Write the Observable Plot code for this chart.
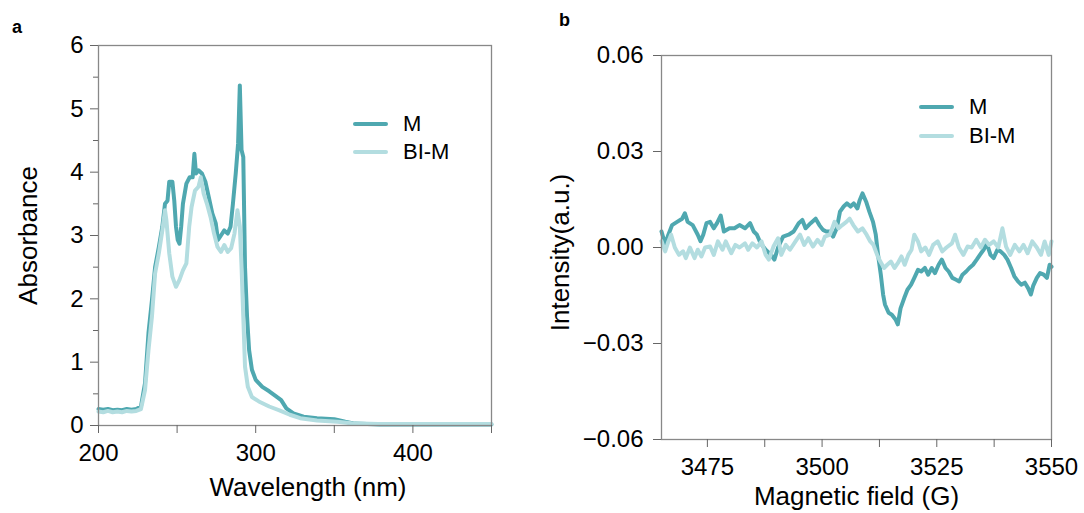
<!DOCTYPE html>
<html><head><meta charset="utf-8">
<script src="https://cdn.jsdelivr.net/npm/d3@7"></script>
<script src="https://cdn.jsdelivr.net/npm/@observablehq/plot@0.6"></script>
<style>
body{margin:0;background:#fff;font-family:"Liberation Sans",Arial,sans-serif;}
#root{position:relative;width:1084px;height:513px;overflow:hidden;}
.panel{position:absolute;top:0;}
.plabel{position:absolute;font-weight:bold;font-size:18px;line-height:1;}
.leg{position:absolute;font-size:22px;height:26px;line-height:26px;display:flex;align-items:center;white-space:nowrap;}
.leg .sw{display:inline-block;width:35px;height:4px;border-radius:2px;margin-right:15px;}
</style></head><body><div id="root"></div>
<script>
// ---------- data: panel a (UV-Vis) ----------
const seriesNames = ["M", "BI-M"];
const seriesColors = ["#4FA8B0", "#B3DDE0"];

const uvWavelengthM = [200,203,206,209,212,215,218,221,224,227,229.6,231.8,234,236,238.4,240.6,242.3,243.9,245,247,248.2,249.3,250.4,251.5,252.6,253.7,255.9,258,259.9,261,262,263.6,265.8,268,270.2,272.4,274.6,276,277.9,280,282.2,284,285.5,287.3,288.8,289.9,291,292.1,293.2,294.5,295.8,297.6,300,304.2,308.6,313,316.2,319.5,324,330.5,339,350,357,363,378.7,400,450];
const uvAbsM = [0.26,0.25,0.26,0.24,0.25,0.24,0.26,0.25,0.26,0.3,0.67,1.46,1.98,2.5,2.82,3.14,3.5,3.55,3.85,3.85,3.55,3.14,2.93,2.87,3.14,3.5,3.82,3.92,3.92,4.29,3.98,4.03,3.98,3.85,3.6,3.35,3.19,2.93,3.0,3.08,3.03,3.14,3.5,3.98,4.45,5.37,4.35,4.24,2.5,1.72,1.19,0.88,0.72,0.61,0.54,0.46,0.40,0.27,0.19,0.14,0.115,0.1,0.06,0.03,0.015,0.015,0.015];

const uvWavelengthBIM = [200,203,206,209,212,215,218,221,224,227,229.6,231.8,234,236,238.4,240.6,242.3,243.2,245,247,249.3,251.5,253.7,255.9,257.7,259.2,261.4,263.6,265.1,266.9,269,271.3,273.5,275.7,277.9,280,282.2,284.4,286.5,288.4,289.9,291,292.1,293.2,295,297.6,302,308.6,315.1,321.7,328.3,339,352,361,378,450];
const uvAbsBIM = [0.22,0.21,0.23,0.21,0.22,0.21,0.23,0.22,0.23,0.26,0.56,1.19,1.72,2.4,2.72,3.08,3.4,3.24,2.72,2.35,2.19,2.3,2.45,2.56,3.14,3.45,3.71,3.77,3.92,3.66,3.5,3.29,3.03,2.82,2.74,2.85,2.74,2.8,3.03,3.4,3.14,2.5,1.72,0.93,0.61,0.45,0.38,0.3,0.24,0.17,0.115,0.08,0.06,0.035,0.025,0.025];

const xTicksA = [200, 300, 400];
const xMinorA = [250, 350, 450];
const yTicksA = [0, 1, 2, 3, 4, 5, 6];
const yMinorA = [0.5, 1.5, 2.5, 3.5, 4.5, 5.5];
const xLabelA = "Wavelength (nm)";
const yLabelA = "Absorbance";

// ---------- data: panel b (EPR) ----------
const eprFieldM = [3465,3465.8,3466.5,3467.3,3468.4,3469.5,3470.1,3470.7,3471.8,3472.9,3473.5,3474.1,3474.8,3475.6,3476.4,3477.1,3477.9,3478.6,3479.8,3480.9,3482,3483.2,3484.3,3485.1,3485.8,3486.6,3487.7,3488.9,3489.6,3490.4,3491.5,3492.7,3493.8,3494.9,3495.7,3496.4,3497.5,3498.6,3499.4,3500.2,3500.9,3501.7,3502.4,3503.2,3503.9,3504.7,3505.4,3506.2,3506.9,3507.7,3508.2,3508.8,3509.6,3510.3,3511.1,3511.7,3512.2,3512.8,3513.3,3513.7,3514.5,3515.2,3516,3516.5,3517.1,3517.9,3518.6,3519.4,3520.1,3520.9,3521.6,3522.4,3523.1,3523.9,3524.6,3525.4,3526.1,3526.9,3527.6,3528.4,3529.1,3529.9,3530.6,3531.4,3532.1,3532.9,3533.7,3534.4,3535.2,3535.9,3536.7,3537.4,3538.2,3538.9,3539.7,3540.4,3541.2,3541.9,3542.7,3543.4,3544.2,3544.9,3545.5,3546,3546.8,3547.5,3548.3,3549,3549.6,3550];
const eprIntM = [0.005,0.001,0.004,0.007,0.008,0.009,0.0107,0.008,0.007,0.004,0.002,0.004,0.0076,0.008,0.006,0.0076,0.010,0.005,0.006,0.006,0.007,0.006,0.0076,0.005,0.004,0.0013,-0.0007,-0.0023,-0.0038,0,0.0034,0.004,0.005,0.0076,0.0086,0.006,0.0076,0.009,0.007,0.0055,0.005,0.005,0.0034,0.006,0.0112,0.0128,0.0138,0.0128,0.0138,0.0122,0.0148,0.0169,0.0143,0.0112,0.008,0.004,-0.0023,-0.0085,-0.0147,-0.0178,-0.0204,-0.021,-0.0225,-0.024,-0.019,-0.0158,-0.0132,-0.0116,-0.0095,-0.007,-0.0075,-0.0064,-0.0085,-0.0064,-0.008,-0.0054,-0.0038,-0.0064,-0.0075,-0.0095,-0.01,-0.0106,-0.0085,-0.0075,-0.0064,-0.0054,-0.0038,-0.0023,-0.0007,0.0013,-0.0023,-0.0033,-0.0007,-0.0012,-0.0023,-0.0038,-0.0064,-0.009,-0.0106,-0.0116,-0.011,-0.0127,-0.0147,-0.012,-0.0095,-0.008,-0.0085,-0.0095,-0.0054,-0.006];

const eprFieldBIM = [3465,3465.8,3466.5,3467.1,3467.9,3468.8,3469.7,3470.3,3471.2,3472.2,3472.9,3473.7,3474.5,3475.6,3476.4,3477.3,3478.3,3479,3480.2,3481.1,3482,3483.2,3483.9,3484.8,3485.8,3486.8,3487.7,3488.4,3489.4,3490.4,3491.1,3492.1,3493,3494.2,3495.2,3496.1,3497,3498,3499,3499.9,3500.6,3501.7,3502.7,3503.6,3504.4,3505.3,3506,3506.8,3507.8,3508.8,3509.7,3510.5,3511.2,3512,3512.7,3513.5,3514.2,3515,3515.8,3516.5,3517.3,3518,3518.8,3519.5,3520.1,3520.9,3521.6,3522.5,3523.3,3524.2,3525.2,3526.2,3527.1,3528.3,3529,3529.8,3530.8,3531.7,3532.6,3533.6,3534.6,3535.5,3536.4,3537.4,3538.4,3539.3,3540.1,3541,3542,3543,3543.9,3544.8,3545.8,3546.8,3547.7,3548.5,3549.4,3550];
const eprIntBIM = [0.002,-0.0012,0.0019,0.004,0,-0.0023,-0.0012,-0.0033,0,-0.0033,-0.0007,-0.0028,0,0.0003,-0.0023,0.0019,-0.0007,0.0019,-0.0018,0.0008,0,0.0013,-0.0007,0.0013,0,0.0019,-0.0023,-0.0038,0.0003,0.0029,-0.0023,0.0008,-0.0007,0.0019,0.004,0.0008,0.0029,0.0003,0.0024,0.0008,0.0034,0.004,0.008,0.006,0.007,0.008,0.009,0.007,0.005,0.006,0.004,0.0019,0.0008,-0.0023,-0.0044,-0.0064,-0.0054,-0.0044,-0.0064,-0.0049,-0.0028,-0.0054,-0.0023,-0.0007,0.004,0.0019,-0.0012,0,-0.0023,0.0008,0.0019,-0.0012,0,0.0013,0.004,0,-0.0023,0.0003,0,0.0024,0,0.0024,0.0008,0.0019,0,0.006,0.0003,-0.0023,0.0008,-0.0012,0.0008,-0.0018,0.0019,0,-0.0023,0.0019,-0.0023,0.0019];

const xTicksB = [3475, 3500, 3525, 3550];
const xMinorB = [3487.5, 3512.5, 3537.5];
const yTicksB = [0.06, 0.03, 0, -0.03, -0.06];
const yTickLabelsB = ["0.06", "0.03", "0.00", "\u22120.03", "\u22120.06"];
const xLabelB = "Magnetic field (G)";
const yLabelB = "Intensity(a.u.)";

// ---------- build ----------
const toRows = (xs, ys) => xs.map((x, i) => ({x, y: ys[i]}));
const FONT = "Liberation Sans, Arial, Helvetica, sans-serif";
const AXIS = "#666";
const FRAME = "#888";

function panel({w, h, ml, mr, mt, mb, xDomain, yDomain, seriesRows, xTicks, xMinor, yTicks, yMinor, yFmt, xLabel, yLabel, xlDx, xlDy, ylDx, ylDy, yPad}) {
  const marks = [];
  seriesRows.forEach((rows, i) => {
    marks.push(Plot.line(rows, {x: "x", y: "y", stroke: seriesColors[i], strokeWidth: 4, strokeLinejoin: "round", strokeLinecap: "round"}));
  });
  marks.push(Plot.frame({stroke: FRAME, strokeWidth: 1.3}));
  marks.push(Plot.axisX({ticks: xTicks, tickSize: 8, tickPadding: 10, stroke: AXIS, label: null, tickFormat: d => String(d), fontSize: 24}));
  marks.push(Plot.axisX({ticks: xMinor, tickSize: 8, tickFormat: () => "", label: null, stroke: AXIS}));
  marks.push(Plot.axisY({ticks: yTicks, tickSize: 8, tickPadding: yPad, stroke: AXIS, label: null, tickFormat: yFmt, fontSize: 24}));
  if (yMinor) marks.push(Plot.axisY({ticks: yMinor, tickSize: 5, tickFormat: () => "", label: null, stroke: AXIS}));
  marks.push(Plot.text([xLabel], {text: d => d, frameAnchor: "bottom", lineAnchor: "middle", textAnchor: "middle", dx: xlDx, dy: xlDy, fontSize: 26, fill: "#000"}));
  marks.push(Plot.text([yLabel], {text: d => d, frameAnchor: "left", lineAnchor: "middle", textAnchor: "middle", rotate: -90, dx: ylDx, dy: ylDy, fontSize: 26, fill: "#000"}));
  return Plot.plot({
    width: w, height: h,
    marginLeft: ml, marginRight: mr, marginTop: mt, marginBottom: mb,
    style: {fontFamily: FONT, fontSize: "24px", color: "#000", background: "transparent", overflow: "visible"},
    x: {domain: xDomain},
    y: {domain: yDomain},
    marks
  });
}

const root = document.getElementById("root");

const svgA = panel({
  w: 542, h: 513, ml: 98, mr: 51, mt: 45, mb: 88,
  xDomain: [200, 450], yDomain: [0, 6],
  seriesRows: [toRows(uvWavelengthM, uvAbsM), toRows(uvWavelengthBIM, uvAbsBIM)],
  xTicks: xTicksA, xMinor: xMinorA, yTicks: yTicksA, yMinor: yMinorA,
  yFmt: d => String(d), yPad: 7,
  xLabel: xLabelA, yLabel: yLabelA, xlDx: 13, xlDy: 62, ylDx: -70, ylDy: 0
});
const divA = document.createElement("div"); divA.className = "panel"; divA.style.left = "0px"; divA.appendChild(svgA); root.appendChild(divA);

const svgB = panel({
  w: 542, h: 513, ml: 119, mr: 33, mt: 55, mb: 74,
  xDomain: [3465, 3550], yDomain: [-0.06, 0.06],
  seriesRows: [toRows(eprFieldM, eprIntM), toRows(eprFieldBIM, eprIntBIM)],
  xTicks: xTicksB, xMinor: xMinorB, yTicks: yTicksB, yMinor: null,
  yFmt: d => yTickLabelsB[yTicksB.indexOf(d)], yPad: 10,
  xLabel: xLabelB, yLabel: yLabelB, xlDx: 0, xlDy: 57, ylDx: -101, ylDy: 5
});
const divB = document.createElement("div"); divB.className = "panel"; divB.style.left = "542px"; divB.appendChild(svgB); root.appendChild(divB);

// panel letters
[["a", 12, 18], ["b", 559, 11]].forEach(([t, x, y]) => {
  const d = document.createElement("div"); d.className = "plabel"; d.textContent = t;
  d.style.left = x + "px"; d.style.top = y + "px"; root.appendChild(d);
});

// legends
function legend(x, y0, gap) {
  seriesNames.forEach((name, i) => {
    const d = document.createElement("div"); d.className = "leg";
    d.style.left = x + "px"; d.style.top = (y0 + i * gap - 13) + "px";
    const sw = document.createElement("span"); sw.className = "sw"; sw.style.background = seriesColors[i];
    d.appendChild(sw); d.appendChild(document.createTextNode(name));
    root.appendChild(d);
  });
}
legend(353, 124, 28);
legend(919, 107, 29);
</script></body></html>
